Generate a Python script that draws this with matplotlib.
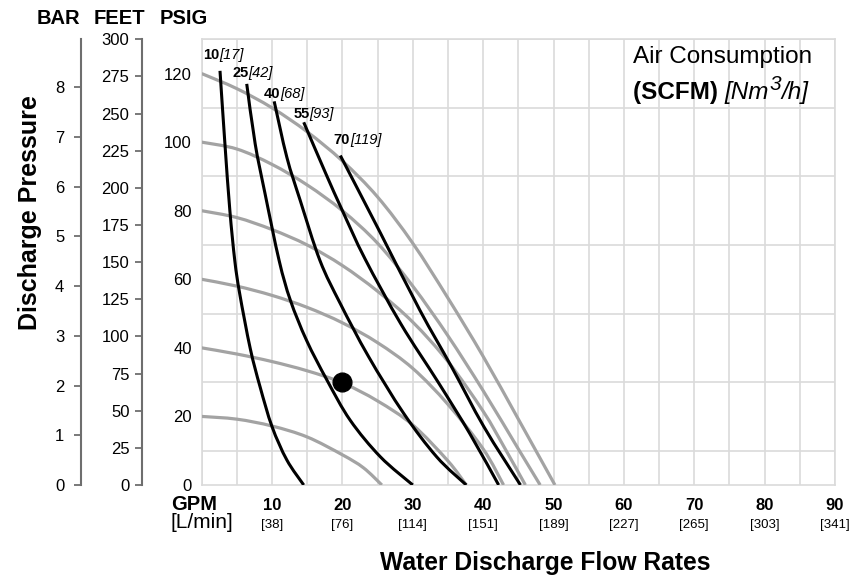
import matplotlib
matplotlib.use('Agg')
import numpy as np
import matplotlib.pyplot as plt
from matplotlib.path import Path
from matplotlib.patches import PathPatch

plt.rcParams['font.family'] = ['Liberation Sans', 'DejaVu Sans']

# x axis labels
gpm_ticks = [10, 20, 30, 40, 50, 60, 70, 80, 90]
lpm_labels = ['[38]', '[76]', '[114]', '[151]', '[189]', '[227]', '[265]', '[303]', '[341]']

# discharge pressure curves (constant air inlet pressure), GPM vs PSIG
p120_gpm = [0, 5, 10, 15, 20, 25, 30, 35, 40, 45, 50.2]
p120_psi = [120, 115.6, 110, 103, 94.5, 84, 70.5, 54.5, 37.5, 19.2, 0]
p100_gpm = [0, 5, 10, 15, 20, 25, 30, 35, 40, 45, 48.1]
p100_psi = [100, 98, 93.5, 87.5, 80, 70.5, 58, 43.5, 27.5, 10.5, 0]
p80_gpm = [0, 5, 10, 15, 20, 25, 30, 35, 40, 43, 46]
p80_psi = [80, 78, 74.5, 70, 64, 56.5, 47.5, 36, 21.5, 11, 0]
p60_gpm = [0, 5, 10, 15, 20, 25, 30, 35, 40, 42.9]
p60_psi = [60, 58, 55.3, 51.8, 47.3, 41.5, 34, 23.5, 10.5, 0]
p40_gpm = [0, 5, 10, 15, 20, 25, 30, 35, 37.6]
p40_psi = [40, 38.2, 36, 33.3, 29.8, 24.5, 17.5, 7, 0]
p20_gpm = [0, 5, 10, 15, 20, 23, 25.6]
p20_psi = [20, 19.2, 17.2, 14, 8.8, 5.0, 0]

# air consumption curves, SCFM [Nm3/h]
a10_gpm = [2.6, 3.3, 4.0, 4.7, 5.4, 6.9, 8.3, 10, 12.1, 14.5]
a10_psi = [120.8, 99.5, 80.1, 65.5, 55.8, 39.8, 28.6, 17, 7.3, 0]
a25_gpm = [6.4, 7.6, 9.0, 11.0, 12.6, 14.9, 17.8, 21.1, 25.4, 30.0]
a25_psi = [117, 99.5, 85, 65.5, 53.9, 42.2, 30.6, 18.9, 8.2, 0]
a40_gpm = [10.3, 12.1, 14.0, 16.8, 19.7, 23.7, 28.7, 33.4, 37.6]
a40_psi = [111.9, 95.6, 83, 65.5, 52.9, 37.5, 20.9, 8.2, 0]
a55_gpm = [14.5, 17.6, 20.0, 23.2, 28.3, 33.6, 38.1, 42.2]
a55_psi = [105.8, 91, 80, 66, 47, 30, 15, 0]
a70_gpm = [19.7, 25.4, 31, 35.5, 40.1, 45.3]
a70_psi = [96.1, 73.5, 51, 34.5, 17, 0]

air_scfm = ['10', '25', '40', '55', '70']
air_nm3 = ['[17]', '[42]', '[68]', '[93]', '[119]']
air_label_gpm = [0.14, 4.35, 8.76, 13.03, 18.72]
air_label_psi = [125.5, 120.1, 113.9, 108.1, 100.5]

duty_gpm = 20
duty_psi = 30


def smooth_path(xs, ys):
    # Excel-like smoothed line through the read points (cubic bezier segments)
    pts = np.column_stack([xs, ys]).astype(float)
    n = len(pts)
    verts = [pts[0]]
    codes = [Path.MOVETO]
    for i in range(n-1):
        p0 = pts[i-1] if i > 0 else pts[i]
        p1 = pts[i]
        p2 = pts[i+1]
        p3 = pts[i+2] if i+2 < n else pts[i+1]
        verts += [p1 + (p2-p0)/6., p2 - (p3-p1)/6., p2]
        codes += [Path.CURVE4]*3
    return Path(verts, codes)


W, H = 859, 578
fig = plt.figure(figsize=(W/100., H/100.), dpi=100)
fig.patch.set_facecolor('w')
x0, x1, y0, y1 = 201.7, 835.0, 485.0, 39.3
ax = fig.add_axes([x0/W, 1-y0/H, (x1-x0)/W, (y0-y1)/H])

gridcol = '#dadada'
ax.set_xlim(0, 90)
ax.set_ylim(0, 130)
ax.set_xticks(np.arange(0, 91, 5), minor=True)
ax.set_yticks(np.arange(0, 131, 10), minor=True)
ax.set_xticks([])
ax.set_yticks(np.arange(0, 121, 20))
ax.grid(True, which='minor', color=gridcol, lw=1.2)
ax.tick_params(which='both', length=0)
ax.tick_params(axis='y', labelsize=12, pad=7)
for sp in ax.spines.values():
    sp.set_color(gridcol)
    sp.set_linewidth(1.2)

gray = '#a3a3a3'
for g, p in [(p120_gpm, p120_psi), (p100_gpm, p100_psi), (p80_gpm, p80_psi),
             (p60_gpm, p60_psi), (p40_gpm, p40_psi), (p20_gpm, p20_psi)]:
    ax.add_patch(PathPatch(smooth_path(g, p), fill=False, edgecolor=gray, lw=2.3,
                           capstyle='butt', zorder=3))

for g, p in [(a10_gpm, a10_psi), (a25_gpm, a25_psi), (a40_gpm, a40_psi),
             (a55_gpm, a55_psi), (a70_gpm, a70_psi)]:
    ax.add_patch(PathPatch(smooth_path(g, p), fill=False, edgecolor='k', lw=2.2,
                           capstyle='butt', zorder=4))

ax.plot(duty_gpm, duty_psi, 'o', color='k', markersize=13.5, zorder=5)

renderer = fig.canvas.get_renderer()


def text_run(xpx, ypx, pieces):
    # consecutive text pieces in pixel coords (from top-left), each with own style
    for s, kw, dy in pieces:
        t = fig.text(xpx/W, 1-(ypx+dy)/H, s, ha='left', va='center', **kw)
        bb = t.get_window_extent(renderer)
        xpx += bb.width


for scfm, nm3, g, p in zip(air_scfm, air_nm3, air_label_gpm, air_label_psi):
    xd, yd = ax.transData.transform((g, p))
    text_run(xd, H-yd, [(scfm, dict(fontsize=10.5, weight='bold'), 0),
                        (nm3, dict(fontsize=10.5, style='italic'), 0)])

text_run(633, 57, [('Air Consumption', dict(fontsize=17.5), 0)])
text_run(633, 92, [('(SCFM) ', dict(fontsize=17.5, weight='bold'), 0),
                   ('[Nm', dict(fontsize=17.5, style='italic'), 0),
                   ('3', dict(fontsize=15, style='italic'), -8),
                   ('/h]', dict(fontsize=17.5, style='italic'), 0)])

# x labels (GPM bold, L/min below)
for g, l in zip(gpm_ticks, lpm_labels):
    xp = (x0 + (x1-x0)*g/90.)/W
    fig.text(xp, 1-505/H, '%d' % g, fontsize=12, weight='bold', ha='center', va='center')
    fig.text(xp, 1-525/H, l, fontsize=9.5, ha='center', va='center')
fig.text(171/W, 1-504/H, 'GPM', fontsize=14.5, weight='bold', ha='left', va='center')
fig.text(170/W, 1-522/H, '[L/min]', fontsize=15, ha='left', va='center')
fig.text(545.5/W, 1-563/H, 'Water Discharge Flow Rates', fontsize=17.7, weight='bold',
         ha='center', va='center')

# secondary pressure axes
spcol = '#6e6e6e'
feet = ax.secondary_yaxis((142-x0)/(x1-x0), functions=(lambda v: v*300/130., lambda v: v*130/300.))
feet.set_yticks(np.arange(0, 301, 25))
bar = ax.secondary_yaxis((81-x0)/(x1-x0), functions=(lambda v: v/14.5038, lambda v: v*14.5038))
bar.set_yticks(np.arange(0, 9, 1))
for sa, pd in [(feet, 4), (bar, 7)]:
    sa.spines['left'].set_color(spcol)
    sa.spines['left'].set_linewidth(1.5)
    sa.tick_params(axis='y', colors=spcol, length=5, width=1.3, labelsize=12,
                   labelcolor='k', pad=pd)

fig.text(58/W, 1-18/H, 'BAR', fontsize=14.5, weight='bold', ha='center', va='center')
fig.text(119.5/W, 1-18/H, 'FEET', fontsize=14.5, weight='bold', ha='center', va='center')
fig.text(184/W, 1-18/H, 'PSIG', fontsize=14.5, weight='bold', ha='center', va='center')
fig.text(30/W, 1-213/H, 'Discharge Pressure', fontsize=18, weight='bold', rotation=90,
         ha='center', va='center')

fig.savefig('out.png', dpi=100)
